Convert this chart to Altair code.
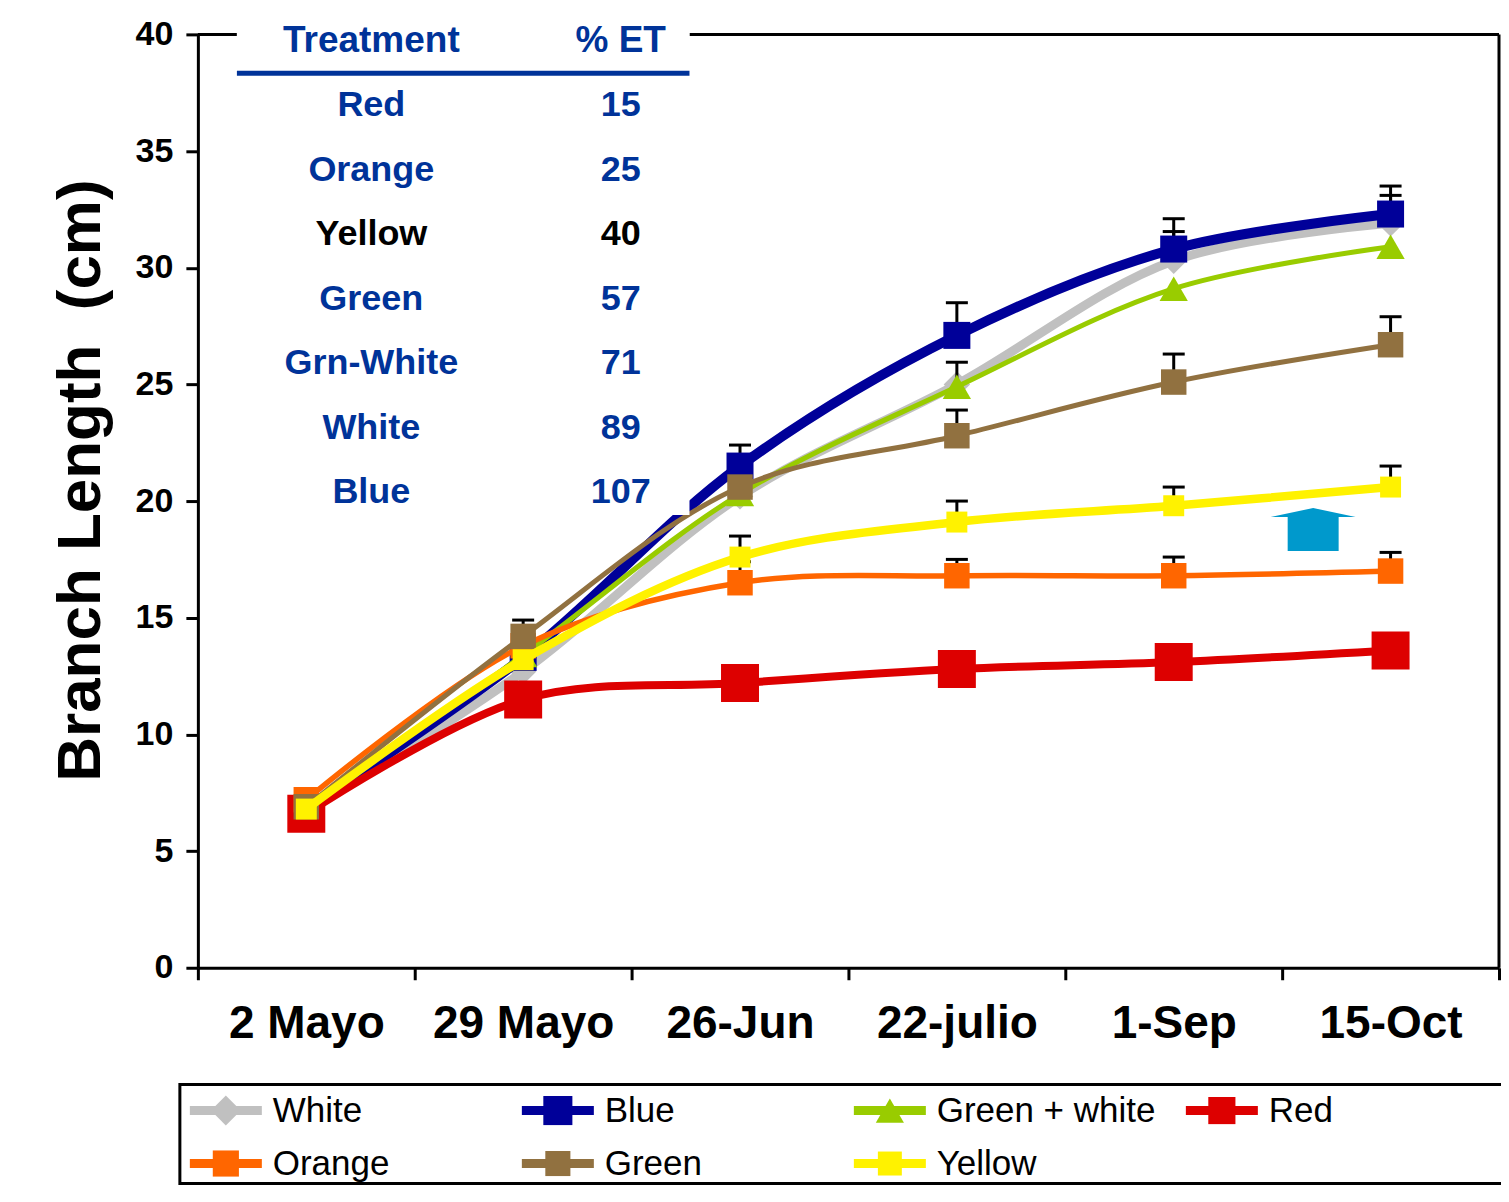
import json
import altair as alt
import pandas as pd

# ---------------- data ----------------
dates = ["2 Mayo", "29 Mayo", "26-Jun", "22-julio", "1-Sep", "15-Oct"]
series = ["White", "Blue", "Green + white", "Red", "Orange", "Green", "Yellow"]

white = [6.7, 12.7, 20.2, 25.0, 30.3, 31.9]
blue = [6.8, 13.3, 21.5, 27.1, 30.8, 32.3]
green_white = [6.9, 13.4, 20.3, 24.9, 29.1, 30.9]
red = [6.6, 11.5, 12.2, 12.8, 13.1, 13.6]
orange = [7.2, 13.8, 16.5, 16.8, 16.8, 17.0]
green = [6.9, 14.2, 20.6, 22.8, 25.1, 26.7]
yellow = [6.8, 13.2, 17.6, 19.1, 19.8, 20.6]

# upper ends of visible error bars (None = not visible)
white_err = [None, None, None, None, 31.55, 33.1]
blue_err = [None, None, 22.4, 28.5, 32.1, 33.5]
green_white_err = [None, None, None, 25.95, None, None]
red_err = [None, None, None, None, None, None]
orange_err = [None, None, 17.4, 17.5, 17.6, 17.8]
green_err = [None, 14.9, None, 23.9, 26.3, 27.9]
yellow_err = [None, None, 18.5, 20.0, 20.6, 21.5]

table_treatments = ["Red", "Orange", "Yellow", "Green", "Grn-White", "White", "Blue"]
table_et = ["15", "25", "40", "57", "71", "89", "107"]

all_vals = [white, blue, green_white, red, orange, green, yellow]
all_errs = [white_err, blue_err, green_white_err, red_err, orange_err, green_err, yellow_err]

# ---------------- styles ----------------
colors = ["#C0C0C0", "#000099", "#99CC00", "#DD0000", "#FF6600", "#917140", "#FFF200"]
line_widths = [9, 10, 5, 8, 5.5, 5, 8.5]
shapes = ["diamond", "square", "triangle-up", "square", "square", "square", "square"]
marker_sizes = [700, 730, 800, 1444, 650, 650, 440]
legend_sizes = [900, 576, 700, 1024, 576, 576, 420]

FONT = "Liberation Sans"
TABLE_BLUE = "#003399"
ARROW_COLOR = "#0099CC"
ARROW_PATH = "M0,-0.506 L1,-0.294 L0.6,-0.294 L0.6,0.506 L-0.6,0.506 L-0.6,-0.294 L-1,-0.294 Z"

# layout constants (data units)
TABLE_X0, TABLE_X1 = 0.18, 2.267
TABLE_Y0, TABLE_Y1 = 19.4, 40.7
TABLE_NAME_X, TABLE_ET_X = 0.80, 1.95
TABLE_HEADER_Y, TABLE_LINE_Y = 39.72, 38.33
TABLE_ROW0_Y, TABLE_ROW_STEP = 36.96, 2.763
ARROW_X, ARROW_Y = 5.143, 18.78
LEG_X0, LEG_DX, LEG_LINE, LEG_TEXT = -0.037, 1.531, 0.332, 0.382
LEG_Y0, LEG_DY, LEG_COLS = -6.12, 2.27, 4
LEG_BOX = (-0.083, 6.1, -5.0, -9.25)

# ---------------- tables ----------------
rows = []
for s, vals, errs in zip(series, all_vals, all_errs):
    for i, (v, e) in enumerate(zip(vals, errs)):
        rows.append({"series": s, "x": i + 0.5, "y": v, "err": e})
df = pd.DataFrame(rows)

tbl = pd.DataFrame({
    "name": table_treatments,
    "et": table_et,
    "nx": [TABLE_NAME_X] * len(table_treatments),
    "ex": [TABLE_ET_X] * len(table_treatments),
    "y": [TABLE_ROW0_Y - i * TABLE_ROW_STEP for i in range(len(table_treatments))],
})

leg_rows = []
for i, s in enumerate(series):
    col, row = i % LEG_COLS, i // LEG_COLS
    x1 = LEG_X0 + col * LEG_DX
    leg_rows.append({"series": s, "x1": x1, "x2": x1 + LEG_LINE,
                     "xm": x1 + LEG_LINE / 2, "xt": x1 + LEG_TEXT,
                     "y": LEG_Y0 - row * LEG_DY})
leg = pd.DataFrame(leg_rows)

x_scale = alt.Scale(domain=[0, 6], nice=False, zero=False)
y_scale = alt.Scale(domain=[0, 40], nice=False, zero=False)

label_expr = f"datum.value % 1 == 0.5 ? {json.dumps(dates)}[floor(datum.value)] : ''"

x_axis = alt.Axis(
    values=[i * 0.5 for i in range(13)], labelExpr=label_expr,
    tickOpacity={"condition": {"test": "datum.value % 1 != 0", "value": 0}, "value": 1},
    tickSize=12, tickWidth=3, tickColor="black", domainColor="black", domainWidth=3,
    labelFont=FONT, labelFontSize=46, labelFontWeight="bold", labelColor="black",
    labelPadding=22, labelOverlap=False, labelFlush=False, labelLimit=0,
    grid=False, title=None,
)
y_axis = alt.Axis(
    values=list(range(0, 41, 5)), tickSize=12, tickWidth=3, tickColor="black",
    domainColor="black", domainWidth=3, labelFont=FONT, labelFontSize=34,
    labelFontWeight="bold", labelColor="black", labelPadding=13, grid=False,
    title="Branch Length \u00a0(cm)", titleFont=FONT, titleFontSize=62,
    titleFontWeight="bold", titleColor="black", titleAngle=270, titleAlign="center",
    titleBaseline="alphabetic", titleX=-98, titleY=446,
)


def X(field):
    return alt.X(field, type="quantitative", scale=x_scale, axis=x_axis)


def Y(field):
    return alt.Y(field, type="quantitative", scale=y_scale, axis=y_axis)


layers = []
for s, c, w, shp, sz in zip(series, colors, line_widths, shapes, marker_sizes):
    sd = alt.Chart(df).transform_filter(alt.datum.series == s)
    layers.append(sd.mark_line(interpolate="catmull-rom", color=c, strokeWidth=w).encode(
        x=X("x"), y=Y("y")))
    errd = sd.transform_filter("isValid(datum.err)")
    layers.append(errd.mark_rule(color="black", strokeWidth=3).encode(
        x=X("x"), y=Y("y"), y2="err"))
    layers.append(errd.mark_tick(orient="horizontal", color="black", size=22,
                                 thickness=3, opacity=1).encode(x=X("x"), y=Y("err")))
    layers.append(sd.mark_point(shape=shp, size=sz, filled=True, color=c, opacity=1,
                                strokeWidth=0).encode(x=X("x"), y=Y("y")))

# frame (top and right), interrupted by the treatment table
frame = pd.DataFrame({"x": [0, TABLE_X1, 6], "x2": [TABLE_X0, 6, 6],
                      "y": [40, 40, 0], "y2": [40, 40, 40]})
layers.append(alt.Chart(frame).mark_rule(color="black", strokeWidth=3, clip=False).encode(
    x=X("x"), x2="x2", y=Y("y"), y2="y2"))

# treatment table
box = pd.DataFrame({"x": [TABLE_X0], "x2": [TABLE_X1], "y": [TABLE_Y0], "y2": [TABLE_Y1],
                    "ly": [TABLE_LINE_Y]})
layers.append(alt.Chart(box).mark_rect(color="white", clip=False).encode(
    x=X("x"), x2="x2", y=Y("y"), y2="y2"))
layers.append(alt.Chart(box).mark_rule(color=TABLE_BLUE, strokeWidth=5, clip=False).encode(
    x=X("x"), x2="x2", y=Y("ly")))
hdr = pd.DataFrame({"t": ["Treatment", "% ET"], "x": [TABLE_NAME_X, TABLE_ET_X],
                    "y": [TABLE_HEADER_Y, TABLE_HEADER_Y]})
layers.append(alt.Chart(hdr).mark_text(font=FONT, fontSize=37, fontWeight="bold",
                                       color=TABLE_BLUE, baseline="middle", clip=False).encode(
    x=X("x"), y=Y("y"), text="t:N"))
tcolor = alt.condition("datum.name == 'Yellow'", alt.value("black"), alt.value(TABLE_BLUE))
layers.append(alt.Chart(tbl).mark_text(font=FONT, fontSize=36, fontWeight="bold",
                                       baseline="middle").encode(
    x=X("nx"), y=Y("y"), text="name:N", color=tcolor))
layers.append(alt.Chart(tbl).mark_text(font=FONT, fontSize=36, fontWeight="bold",
                                       baseline="middle").encode(
    x=X("ex"), y=Y("y"), text="et:N", color=tcolor))

# blue arrow
arrow = pd.DataFrame({"x": [ARROW_X], "y": [ARROW_Y]})
layers.append(alt.Chart(arrow).mark_point(shape=ARROW_PATH, size=7225, filled=True,
                                          color=ARROW_COLOR, opacity=1, strokeWidth=0).encode(
    x=X("x"), y=Y("y")))

# legend box below the plot
lb = pd.DataFrame({"x": [LEG_BOX[0]], "x2": [LEG_BOX[1]], "y": [LEG_BOX[2]], "y2": [LEG_BOX[3]]})
layers.append(alt.Chart(lb).mark_rect(fill="white", stroke="black", strokeWidth=3,
                                      clip=False).encode(x=X("x"), x2="x2", y=Y("y"), y2="y2"))
cscale = alt.Scale(domain=series, range=colors)
layers.append(alt.Chart(leg).mark_rule(strokeWidth=9, clip=False).encode(
    x=X("x1"), x2="x2", y=Y("y"), color=alt.Color("series:N", scale=cscale, legend=None)))
layers.append(alt.Chart(leg).mark_point(filled=True, opacity=1, strokeWidth=0, clip=False).encode(
    x=X("xm"), y=Y("y"),
    color=alt.Color("series:N", scale=cscale, legend=None),
    shape=alt.Shape("series:N", scale=alt.Scale(domain=series, range=shapes), legend=None),
    size=alt.Size("series:O", scale=alt.Scale(domain=series, range=legend_sizes), legend=None)))
layers.append(alt.Chart(leg).mark_text(font=FONT, fontSize=35, color="black", align="left",
                                       baseline="middle", clip=False).encode(
    x=X("xt"), y=Y("y"), text="series:N"))

chart = alt.layer(*layers).properties(
    width=1302, height=934,
    autosize=alt.AutoSizeParams(type="none"),
    padding={"left": 190, "top": 26, "right": 2, "bottom": 218},
    background="white",
).configure_view(strokeWidth=0)

chart.save("out.html", embed_options={"renderer": "svg", "actions": False})
